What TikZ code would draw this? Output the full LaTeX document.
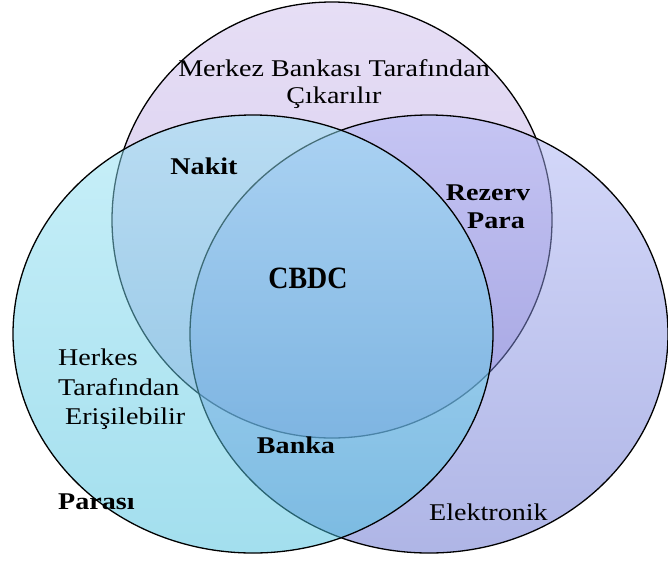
\documentclass[tikz,border=0pt]{standalone}
\usepackage{fontspec}
\setmainfont{Liberation Serif}[FakeStretch=1.17]
\newfontfamily\cbdcfont{Liberation Serif}[FakeStretch=0.9]
\definecolor{topA}{RGB}{230,222,245}
\definecolor{topB}{RGB}{212,200,236}
\definecolor{rightA}{RGB}{171,179,245}
\definecolor{rightB}{RGB}{95,108,205}
\definecolor{leftA}{RGB}{147,225,243}
\definecolor{leftB}{RGB}{71,191,221}
\begin{document}
\begin{tikzpicture}[x=1pt,y=-1pt,
  setedge/.style={draw=black,line width=1.3pt},
  lbl/.style={inner sep=0pt,font=\fontsize{24}{27}\selectfont},
  blbl/.style={inner sep=0pt,font=\fontsize{24}{27}\selectfont\bfseries}]
\useasboundingbox (0,0) rectangle (668,560);
% top circle (purple)
\path[setedge,top color=topA,bottom color=topB] (332,220) ellipse [x radius=220pt,y radius=218pt];
% right circle (blue)
\path[setedge,top color=rightA,bottom color=rightB,fill opacity=0.5] (429,334) ellipse [x radius=239pt,y radius=219pt];
% left circle (cyan)
\path[setedge,top color=leftA,bottom color=leftB,fill opacity=0.5] (253,334) ellipse [x radius=240pt,y radius=219pt];
% labels
\node[lbl,anchor=base] (mb1) at (334,76) {Merkez Bankası Tarafından};
\node[lbl,anchor=base] (mb2) at (334,103) {Çıkarılır};
\node[blbl,anchor=base] (nakit) at (204,174) {Nakit};
\node[blbl,anchor=base] (rez1) at (488,200) {Rezerv};
\node[blbl,anchor=base] (rez2) at (496,228) {Para};
\node[inner sep=0pt,font=\fontsize{31}{34}\selectfont\bfseries\cbdcfont,anchor=base] (cbdc) at (308,288) {CBDC};
\node[lbl,anchor=base west] (h1) at (58,365) {Herkes};
\node[lbl,anchor=base west] (h2) at (58,395) {Tarafından};
\node[lbl,anchor=base west] (h3) at (65,424) {Erişilebilir};
\node[blbl,anchor=base west] (parasi) at (58,509) {Parası};
\node[blbl,anchor=base] (banka) at (296,453) {Banka};
\node[lbl,anchor=base west] (elek) at (429,520) {Elektronik};
\end{tikzpicture}
\end{document}
